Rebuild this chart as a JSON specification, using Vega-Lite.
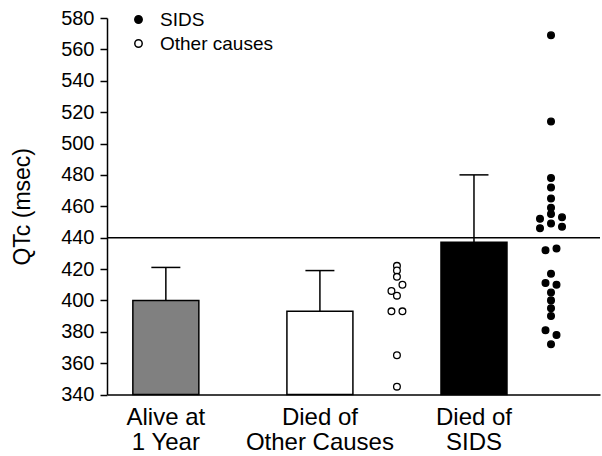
{
  "$schema": "https://vega.github.io/schema/vega-lite/v6.json",
  "width": 493,
  "height": 376.5,
  "autosize": {"type": "none"},
  "padding": {"left": 107, "top": 18, "right": 2, "bottom": 61.5},
  "config": {
    "view": {"stroke": null},
    "font": "Liberation Sans",
    "axis": {
      "domainColor": "black", "tickColor": "black", "labelColor": "black", "titleColor": "black",
      "domainWidth": 1.5, "tickWidth": 1.5, "grid": false,
      "labelFont": "Liberation Sans", "titleFont": "Liberation Sans", "titleFontWeight": "normal"
    },
    "axisY": {
      "values": [340, 360, 380, 400, 420, 440, 460, 480, 500, 520, 540, 560, 580],
      "labelOverlap": false, "labelFontSize": 20, "titleFontSize": 23,
      "tickSize": 7, "labelPadding": 6, "titlePadding": 26
    },
    "legend": {"labelFont": "Liberation Sans", "labelColor": "black"}
  },
  "datasets": {
    "bars": [
      {"group": "Alive at 1 Year", "mean": 400, "upper": 421},
      {"group": "Died of Other Causes", "mean": 393, "upper": 419},
      {"group": "Died of SIDS", "mean": 437, "upper": 480}
    ],
    "dots": [
      {"group": "Other causes", "qtc": 422, "lane": "M"},
      {"group": "Other causes", "qtc": 419, "lane": "M"},
      {"group": "Other causes", "qtc": 415, "lane": "M"},
      {"group": "Other causes", "qtc": 410, "lane": "R1"},
      {"group": "Other causes", "qtc": 406, "lane": "L1"},
      {"group": "Other causes", "qtc": 403, "lane": "M"},
      {"group": "Other causes", "qtc": 393, "lane": "L1"},
      {"group": "Other causes", "qtc": 393, "lane": "R1"},
      {"group": "Other causes", "qtc": 365, "lane": "M"},
      {"group": "Other causes", "qtc": 345, "lane": "M"},
      {"group": "SIDS", "qtc": 569, "lane": "M"},
      {"group": "SIDS", "qtc": 514, "lane": "M"},
      {"group": "SIDS", "qtc": 478, "lane": "M"},
      {"group": "SIDS", "qtc": 472, "lane": "M"},
      {"group": "SIDS", "qtc": 465, "lane": "M"},
      {"group": "SIDS", "qtc": 459, "lane": "M"},
      {"group": "SIDS", "qtc": 455, "lane": "M"},
      {"group": "SIDS", "qtc": 453, "lane": "R2"},
      {"group": "SIDS", "qtc": 452, "lane": "L2"},
      {"group": "SIDS", "qtc": 449, "lane": "M"},
      {"group": "SIDS", "qtc": 447, "lane": "R2"},
      {"group": "SIDS", "qtc": 446, "lane": "L2"},
      {"group": "SIDS", "qtc": 433, "lane": "R1"},
      {"group": "SIDS", "qtc": 432, "lane": "L1"},
      {"group": "SIDS", "qtc": 417, "lane": "M"},
      {"group": "SIDS", "qtc": 411, "lane": "L1"},
      {"group": "SIDS", "qtc": 410, "lane": "R1"},
      {"group": "SIDS", "qtc": 405, "lane": "M"},
      {"group": "SIDS", "qtc": 400, "lane": "M"},
      {"group": "SIDS", "qtc": 395, "lane": "M"},
      {"group": "SIDS", "qtc": 390, "lane": "M"},
      {"group": "SIDS", "qtc": 381, "lane": "L1"},
      {"group": "SIDS", "qtc": 378, "lane": "R1"},
      {"group": "SIDS", "qtc": 372, "lane": "M"}
    ]
  },
  "encoding": {
    "x": {
      "field": "group", "type": "nominal",
      "scale": {
        "domain": ["Alive at 1 Year", " ", "Died of Other Causes", "Other causes", "Died of SIDS", "SIDS"],
        "paddingInner": 0, "paddingOuter": 0.2, "align": 0.66
      },
      "axis": {
        "title": null, "ticks": false, "labelAngle": 0,
        "labelFontSize": 24, "labelLineHeight": 25, "labelPadding": 11,
        "labelExpr": "datum.value == 'Alive at 1 Year' ? ['Alive at', '1 Year'] : datum.value == 'Died of Other Causes' ? ['Died of', 'Other Causes'] : datum.value == 'Died of SIDS' ? ['Died of', 'SIDS'] : ''"
      }
    }
  },
  "layer": [
    {
      "data": {"name": "bars"},
      "mark": {"type": "bar", "width": 66, "stroke": "black", "strokeWidth": 1.5},
      "encoding": {
        "y": {
          "field": "mean", "type": "quantitative",
          "scale": {"domain": [340, 580], "nice": false, "zero": false},
          "title": "QTc (msec)"
        },
        "y2": {"datum": 340},
        "fill": {
          "condition": [
            {"test": "datum.group == 'Alive at 1 Year'", "value": "#808080"},
            {"test": "datum.group == 'Died of SIDS'", "value": "black"}
          ],
          "value": "white"
        }
      }
    },
    {
      "data": {"name": "bars"},
      "mark": {"type": "rule", "color": "black", "strokeWidth": 1.5},
      "encoding": {
        "y": {"field": "mean", "type": "quantitative", "title": "QTc (msec)"},
        "y2": {"field": "upper"}
      }
    },
    {
      "data": {"name": "bars"},
      "mark": {"type": "tick", "color": "black", "thickness": 1.5, "size": 29, "opacity": 1},
      "encoding": {
        "y": {"field": "upper", "type": "quantitative", "title": "QTc (msec)"}
      }
    },
    {
      "data": {"values": [{"ref": 440}]},
      "mark": {"type": "rule", "color": "black", "strokeWidth": 1.5},
      "encoding": {
        "x": null,
        "y": {"field": "ref", "type": "quantitative", "title": "QTc (msec)"}
      }
    },
    {
      "data": {"name": "dots"},
      "mark": {"type": "circle", "stroke": "black", "strokeWidth": 1.3, "opacity": 1, "size": 45},
      "encoding": {
        "y": {"field": "qtc", "type": "quantitative", "title": "QTc (msec)"},
        "xOffset": {
          "field": "lane", "type": "nominal",
          "scale": {"domain": ["a1", "a2", "a3", "a4", "a5", "L2", "L1", "M", "R1", "R2", "b1", "b2", "b3", "b4", "b5"], "paddingOuter": 0, "paddingInner": 0}
        },
        "fill": {
          "field": "group", "type": "nominal",
          "scale": {"domain": ["SIDS", "Other causes"], "range": ["black", "white"]},
          "legend": {
            "title": null, "orient": "none", "legendX": 22, "legendY": -8,
            "symbolType": "circle", "symbolSize": 55, "symbolStrokeColor": "black",
            "symbolStrokeWidth": 1.5, "symbolOpacity": 1,
            "labelFontSize": 19, "rowPadding": 4, "labelOffset": 12, "padding": 0
          }
        }
      }
    }
  ]
}
